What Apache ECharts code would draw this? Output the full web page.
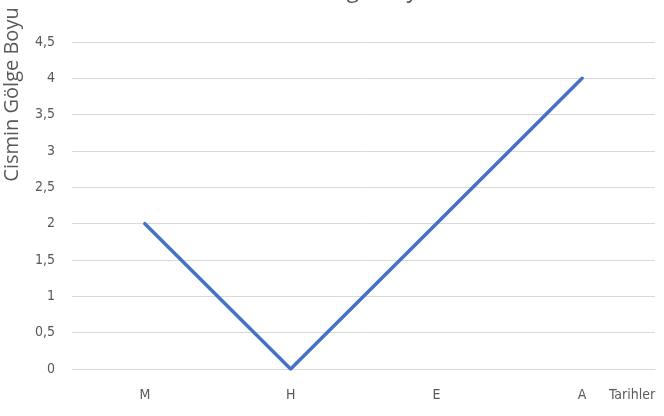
<!DOCTYPE html>
<html><head><meta charset="utf-8">
<script src="https://cdn.jsdelivr.net/npm/echarts@6/dist/echarts.min.js"></script>
<style>html,body{margin:0;padding:0;background:#fff}#c{width:664px;height:416px}</style>
</head><body><div id="c"></div>
<script>
var categories = ['M', 'H', 'E', 'A'];
var values = [2, 0, 2, 4];
var yTicks = ['0','0,5','1','1,5','2','2,5','3','3,5','4','4,5'];
var titleText = 'Cismin Gölge Boyu';
var xName = 'Tarihler';
var yName = 'Cismin Gölge Boyu';

var chart = echarts.init(document.getElementById('c'), null, {renderer: 'canvas'});
var lbl = {color: '#595959', fontFamily: '"Liberation Sans Narrow", "DejaVu Sans Condensed", Roboto, sans-serif', fontSize: 14};
chart.setOption({
  animation: false,
  title: {text: titleText, left: 'center', top: -21, padding: [0, 0, 0, 22],
    textStyle: {color: '#595959', fontFamily: '"Open Sans", sans-serif', fontSize: 23, fontWeight: 'normal'}},
  grid: {left: 72, right: 9, top: 42, bottom: 47, containLabel: false, outerBoundsMode: 'none'},
  xAxis: {type: 'category', data: categories, boundaryGap: true,
    axisLine: {show: true, lineStyle: {color: '#d9d9d9', width: 1}},
    axisTick: {show: false},
    axisLabel: Object.assign({margin: 19}, lbl),
    name: xName, nameLocation: 'end', nameGap: -46,
    nameTextStyle: Object.assign({align: 'left', verticalAlign: 'top', padding: [19, 0, 0, 0]}, lbl)
  },
  yAxis: {type: 'value', min: 0, max: 4.5, interval: 0.5,
    axisLine: {show: false}, axisTick: {show: false},
    splitLine: {lineStyle: {color: '#d9d9d9', width: 1}},
    axisLabel: Object.assign({margin: 17, formatter: function (v) { return yTicks[Math.round(v * 2)]; }}, lbl),
    name: yName, nameLocation: 'middle', nameGap: 50, nameRotate: 90,
    nameTextStyle: {color: '#595959', fontFamily: '"Open Sans", sans-serif', fontSize: 20, padding: [0, 0, 0, 222]}
  },
  series: [{type: 'line', data: values, showSymbol: false, symbol: 'none',
    lineStyle: {color: '#4472C4', width: 3.5, cap: 'round', join: 'round'}}]
});
</script></body></html>
